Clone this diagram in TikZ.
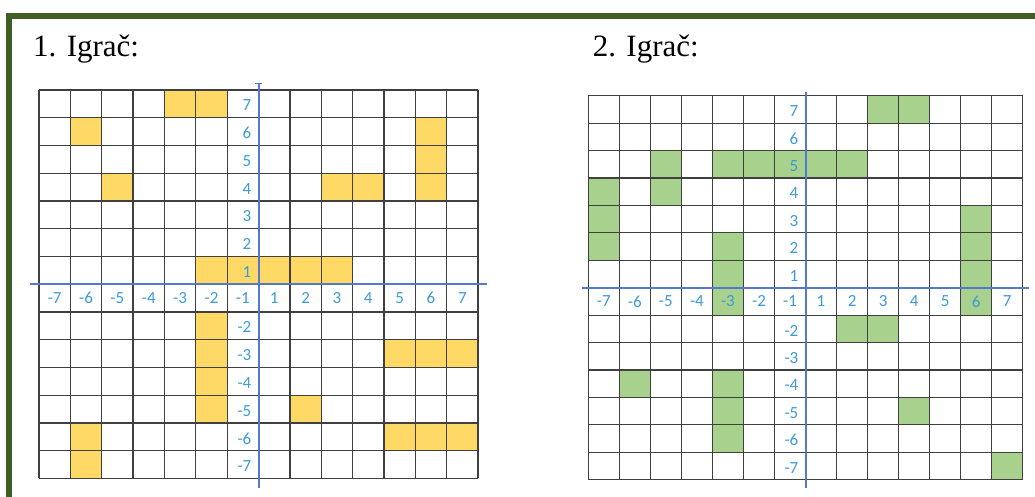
\documentclass[tikz,border=0pt]{standalone}
\usepackage{fontspec}
\setmainfont{Liberation Serif}
\newfontfamily\lblfont{Carlito}
\usetikzlibrary{arrows.meta}
\definecolor{framegreen}{HTML}{3E5E24}
\definecolor{axisblue}{HTML}{5577CC}
\definecolor{lblblue}{HTML}{3D9AD6}
\definecolor{cellyellow}{HTML}{FFD966}
\definecolor{cellgreen}{HTML}{A9D18E}
\definecolor{gridgray}{HTML}{404040}
\tikzset{
  gridline/.style={draw=gridgray, line width=1.25pt},
  axisline/.style={draw=axisblue, line width=2pt},
  numlbl/.style={text=lblblue, font=\lblfont\fontsize{17}{18}\selectfont, inner sep=0pt},
  titlelbl/.style={font=\fontsize{31}{36}\selectfont, inner sep=0pt, anchor=base west},
}
\begin{document}
\begin{tikzpicture}[x=1pt,y=-1pt]
\useasboundingbox (0,0) rectangle (1035,496);
\clip (0,0) rectangle (1035,496);
\draw[framegreen, line width=6pt] (8.5,15.5) rectangle (1100,560);
\node[titlelbl] (t1) at (33,56) {1. Igrač:};
\node[titlelbl] (t2) at (592.7,56) {2. Igrač:};
% ---------- Player 1 ----------
\begin{scope}[shift={(39pt,-90pt)}, x=31.36pt, y=-27.74pt]
  \foreach \c/\r in {4/0,5/0,1/1,12/1,12/2,2/3,9/3,10/3,12/3,5/6,6/6,7/6,8/6,9/6,
                     5/8,5/9,11/9,12/9,13/9,5/10,5/11,8/11,1/12,11/12,12/12,13/12,1/13}
    \fill[cellyellow] (\c,\r) rectangle ++(1,1);
  \foreach \i in {0,...,14} {
    \draw[gridline] (\i,0) -- (\i,14);
    \draw[gridline] (0,\i) -- (14,\i);
  }
  \foreach \c [evaluate=\c as \v using {int(\c<7 ? \c-7 : \c-6)}] in {0,...,13}
    \node[numlbl] (pa-x\c) at (\c+0.5,7.5) {\v};
  \foreach \r [evaluate=\r as \v using {int(\r<7 ? 7-\r : 6-\r)}] in {0,...,6,8,9,10,11,12,13}
    \node[numlbl, anchor=east] (pa-y\r) at ([xshift=-7pt]7,\r+0.56) {\v};
  \coordinate (pa-xl) at (-0.29,7);
  \coordinate (pa-xr) at (14.28,7);
  \coordinate (pa-yt) at (7,-0.25);
  \coordinate (pa-yb) at (7,14.35);
  \draw[axisline] (pa-xl) -- (pa-xr);
  \draw[axisline, {Bar[width=7pt,line width=1.2pt]}-] (pa-yt) -- (pa-yb);
\end{scope}
% ---------- Player 2 ----------
\begin{scope}[shift={(588.3pt,-95.7pt)}, x=31.03pt, y=-27.43pt]
  \foreach \c/\r in {9/0,10/0,2/2,4/2,5/2,6/2,7/2,8/2,0/3,2/3,0/4,12/4,0/5,4/5,12/5,
                     4/6,12/6,4/7,12/7,8/8,9/8,1/10,4/10,4/11,10/11,4/12,13/13}
    \fill[cellgreen] (\c,\r) rectangle ++(1,1);
  \foreach \i in {0,...,14} {
    \draw[gridline] (\i,0) -- (\i,14);
    \draw[gridline] (0,\i) -- (14,\i);
  }
  \foreach \c [evaluate=\c as \v using {int(\c<7 ? \c-7 : \c-6)}] in {0,...,13}
    \node[numlbl] (pb-x\c) at (\c+0.5,7.5) {\v};
  \foreach \r [evaluate=\r as \v using {int(\r<7 ? 7-\r : 6-\r)}] in {0,...,6,8,9,10,11,12,13}
    \node[numlbl, anchor=east] (pb-y\r) at ([xshift=-7pt]7,\r+0.56) {\v};
  \coordinate (pb-xl) at (-0.21,7);
  \coordinate (pb-xr) at (14.2,7);
  \coordinate (pb-yt) at (7,-0.15);
  \coordinate (pb-yb) at (7,14.31);
  \draw[axisline] (pb-xl) -- (pb-xr);
  \draw[axisline] (pb-yt) -- (pb-yb);
\end{scope}
\end{tikzpicture}
\end{document}
